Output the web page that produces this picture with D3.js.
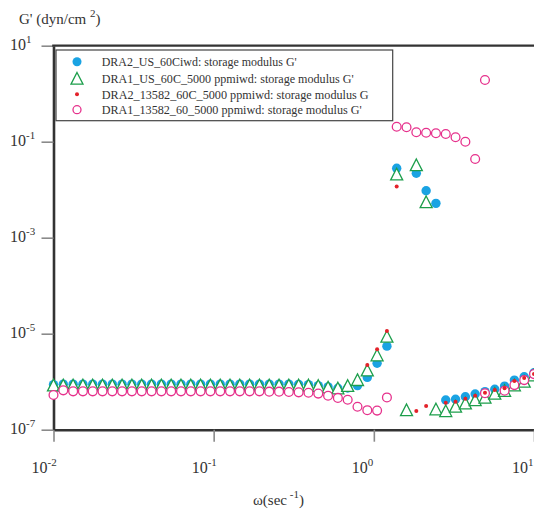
<!DOCTYPE html>
<html><head><meta charset="utf-8">
<script src="https://cdn.jsdelivr.net/npm/d3@7"></script>
<style>body{margin:0;background:#fff}svg{display:block}
svg text{font-family:"Liberation Serif","Times New Roman",Times,serif}</style>
</head><body><svg id="c" width="534" height="512"></svg>
<script>
// angular frequency (sec^-1)
const omega = [0.01,0.01151,0.01326,0.01526,0.01757,0.02023,0.02329,0.02681,0.03087,0.03554,
  0.04095,0.04715,0.05429,0.06251,0.07197,0.08287,0.09541,0.1099,0.1265,0.1456,
  0.1677,0.1931,0.2223,0.2560,0.2947,0.3393,0.3907,0.4498,0.5179,0.5963,
  0.6866,0.7906,0.9103,1.048,1.207,1.389,1.600,1.842,2.121,2.442,
  2.812,3.237,3.728,4.292,4.942,5.690,6.551,7.543,8.685,10.0];

// DRA2_US_60Ciwd (blue filled circles)
const gDRA2US = [8.7e-7,8.9e-7,8.9e-7,8.9e-7,8.9e-7,8.9e-7,8.9e-7,8.9e-7,8.9e-7,8.9e-7,
  8.9e-7,8.9e-7,8.9e-7,8.9e-7,8.9e-7,8.9e-7,8.9e-7,8.9e-7,8.9e-7,8.9e-7,
  8.9e-7,8.9e-7,8.9e-7,8.9e-7,8.9e-7,8.8e-7,8.7e-7,8.3e-7,7.8e-7,7.3e-7,
  7.4e-7,8.3e-7,1.23e-6,2.42e-6,5.5e-6,0.0279,null,0.022,0.0095,0.0052,
  4.16e-7,4.3e-7,4.87e-7,5.55e-7,6.2e-7,6.95e-7,8.1e-7,1.08e-6,1.27e-6,1.54e-6];

// DRA1_US_60C_5000 ppmiwd (green open triangles)
const gDRA1US = [8.5e-7,8.5e-7,8.5e-7,8.5e-7,8.5e-7,8.5e-7,8.5e-7,8.5e-7,8.5e-7,8.5e-7,
  8.5e-7,8.5e-7,8.5e-7,8.5e-7,8.5e-7,8.5e-7,8.5e-7,8.5e-7,8.5e-7,8.5e-7,
  8.5e-7,8.5e-7,8.5e-7,8.5e-7,8.5e-7,8.5e-7,8.5e-7,8.3e-7,7.7e-7,7.4e-7,
  8.3e-7,1.1e-6,1.75e-6,3.6e-6,8.8e-6,0.0212,2.6e-7,0.033,0.0056,2.7e-7,
  2.48e-7,3.07e-7,3.58e-7,4.2e-7,4.73e-7,5.7e-7,6.53e-7,8.53e-7,1.02e-6,1.38e-6];

// DRA2_13582_60C_5000 ppmiwd (red dots)
const gDRA213582 = [null,null,null,null,null,null,null,null,null,null,
  null,null,null,null,null,null,null,null,null,null,
  null,null,null,null,null,null,null,null,null,null,
  null,null,2.23e-6,4.73e-6,1.14e-5,0.0116,null,2.45e-7,3.1e-7,null,
  3.65e-7,3.8e-7,4.4e-7,5.1e-7,5.9e-7,6.7e-7,7.3e-7,1.03e-6,1.2e-6,1.45e-6];

// DRA1_13582_60_5000 ppmiwd (pink open circles), lower branch
const gDRA113582 = [5.3e-7,6.6e-7,6.3e-7,6.3e-7,6.3e-7,6.3e-7,6.3e-7,6.3e-7,6.3e-7,6.3e-7,
  6.3e-7,6.3e-7,6.3e-7,6.3e-7,6.3e-7,6.3e-7,6.3e-7,6.3e-7,6.3e-7,6.3e-7,
  6.3e-7,6.3e-7,6.2e-7,6.2e-7,6.1e-7,6.0e-7,5.9e-7,5.65e-7,5.1e-7,4.6e-7,
  4.2e-7,3.0e-7,2.55e-7,2.5e-7,4.7e-7,null,null,null,null,null,
  null,null,null,null,5.75e-7,null,6.5e-7,8.5e-7,1.08e-6,1.44e-6];
// same sample, upper branch
const gDRA113582b = [null,null,null,null,null,null,null,null,null,null,
  null,null,null,null,null,null,null,null,null,null,
  null,null,null,null,null,null,null,null,null,null,
  null,null,null,null,null,0.205,0.2,0.157,0.154,0.15,
  0.145,0.124,0.1,0.0436,1.93,null,null,null,null,null];

const xTicks = [0.01, 0.1, 1, 10];
const xTickExp = ["-2", "-1", "0", "1"];
const yTicks = [10, 0.1, 1e-3, 1e-5, 1e-7];
const yTickExp = ["1", "-1", "-3", "-5", "-7"];
const legendLabels = [
  "DRA2_US_60Ciwd: storage modulus G'",
  "DRA1_US_60C_5000 ppmiwd: storage modulus G'",
  "DRA2_13582_60C_5000 ppmiwd: storage modulus G",
  "DRA1_13582_60_5000 ppmiwd: storage modulus G'"
];
const legendWidths = [195, 252, 267, 260];

const BLUE = "#1aa3e3", GREEN = "#1c9e4b", RED = "#e3222a", PINK = "#e6318c";
const TXT = "#333";

const svg = d3.select("#c");
const x = d3.scaleLog().domain([0.01, 10]).range([53.5, 534]);
const y = d3.scaleLog().domain([1e-7, 10]).range([429.7, 45.7]);

// axes
const gx = svg.append("g").attr("transform", "translate(0,429.7)")
  .call(d3.axisBottom(x).tickValues(xTicks).tickSize(12).tickSizeOuter(0).tickFormat(() => ""));
const gy = svg.append("g").attr("transform", "translate(53.5,0)")
  .call(d3.axisLeft(y).tickValues(yTicks).tickSize(12).tickSizeOuter(0).tickFormat(() => ""));
[gx, gy].forEach(g => {
  g.selectAll(".tick line").attr("stroke", "#8a8a8a").attr("stroke-width", 1.6);
  g.select(".domain").attr("stroke", "#333").attr("stroke-width", 2.6);
});
svg.append("line").attr("x1", 52.2).attr("x2", 534).attr("y1", 45.7).attr("y2", 45.7)
  .attr("stroke", "#333").attr("stroke-width", 2.2);

// tick labels with superscripts
xTicks.forEach((v, i) => {
  const t = svg.append("text").attr("x", x(v) - 22).attr("y", 473)
    .attr("font-size", 16).attr("fill", TXT);
  t.append("tspan").text("10");
  t.append("tspan").attr("font-size", 11).attr("dy", -7).text(xTickExp[i]);
});
yTicks.forEach((v, i) => {
  const t = svg.append("text").attr("x", 10).attr("y", y(v) + 4.5)
    .attr("font-size", 16).attr("fill", TXT);
  t.append("tspan").text("10");
  t.append("tspan").attr("font-size", 11).attr("dy", -7).text(yTickExp[i]);
});

// axis titles
const yt = svg.append("text").attr("x", 19).attr("y", 24)
  .attr("font-size", 15).attr("fill", TXT);
yt.append("tspan").text("G' (dyn/cm ");
yt.append("tspan").attr("font-size", 11).attr("dy", -7).text("2");
yt.append("tspan").attr("dy", 7).text(")");

const xt = svg.append("text").attr("x", 253).attr("y", 505)
  .attr("font-size", 15).attr("fill", TXT);
xt.append("tspan").text("\u03c9(sec");
xt.append("tspan").attr("font-size", 11).attr("dy", -7).text(" -1");
xt.append("tspan").attr("dy", 7).text(")");

// marker shapes
const triShape = { draw(ctx) { ctx.moveTo(0, -5.8); ctx.lineTo(6, 5.8); ctx.lineTo(-6, 5.8); ctx.closePath(); } };
const triPath = d3.symbol().type(triShape)();

const idx = d3.range(omega.length);
function pts(arr) { return idx.filter(i => arr[i] != null).map(i => [omega[i], arr[i]]); }

const plot = svg.append("g");
plot.selectAll(".b").data(pts(gDRA2US)).join("circle")
  .attr("cx", d => x(d[0])).attr("cy", d => y(d[1])).attr("r", 4.7).attr("fill", BLUE);
plot.selectAll(".g").data(pts(gDRA1US)).join("path")
  .attr("d", triPath).attr("transform", d => `translate(${x(d[0])},${y(d[1])})`)
  .attr("fill", "#fff").attr("stroke", GREEN).attr("stroke-width", 1.3);
plot.selectAll(".p").data(pts(gDRA113582).concat(pts(gDRA113582b))).join("circle")
  .attr("cx", d => x(d[0])).attr("cy", d => y(d[1])).attr("r", 4.4)
  .attr("fill", "#fff").attr("stroke", PINK).attr("stroke-width", 1.3);
plot.selectAll(".r").data(pts(gDRA213582)).join("circle")
  .attr("cx", d => x(d[0])).attr("cy", d => y(d[1])).attr("r", 2).attr("fill", RED);

// legend
const lg = svg.append("g");
lg.append("rect").attr("x", 56).attr("y", 50).attr("width", 336.7).attr("height", 70.7)
  .attr("fill", "#fff").attr("stroke", "#444").attr("stroke-width", 1.2);
const rowsY = [61.7, 78.3, 94.3, 109.7];
lg.append("circle").attr("cx", 77).attr("cy", rowsY[0]).attr("r", 4.5).attr("fill", BLUE);
lg.append("path").attr("d", triPath).attr("transform", `translate(77,${rowsY[1]})`)
  .attr("fill", "#fff").attr("stroke", GREEN).attr("stroke-width", 1.3);
lg.append("circle").attr("cx", 77).attr("cy", rowsY[2]).attr("r", 2).attr("fill", RED);
lg.append("circle").attr("cx", 77).attr("cy", rowsY[3]).attr("r", 4).attr("fill", "#fff")
  .attr("stroke", PINK).attr("stroke-width", 1.3);
legendLabels.forEach((s, i) => {
  lg.append("text").attr("x", 101.7).attr("y", rowsY[i] + 4.3)
    .attr("font-size", 13).attr("fill", TXT)
    .attr("textLength", legendWidths[i]).attr("lengthAdjust", "spacingAndGlyphs").text(s);
});
</script>
</body></html>
